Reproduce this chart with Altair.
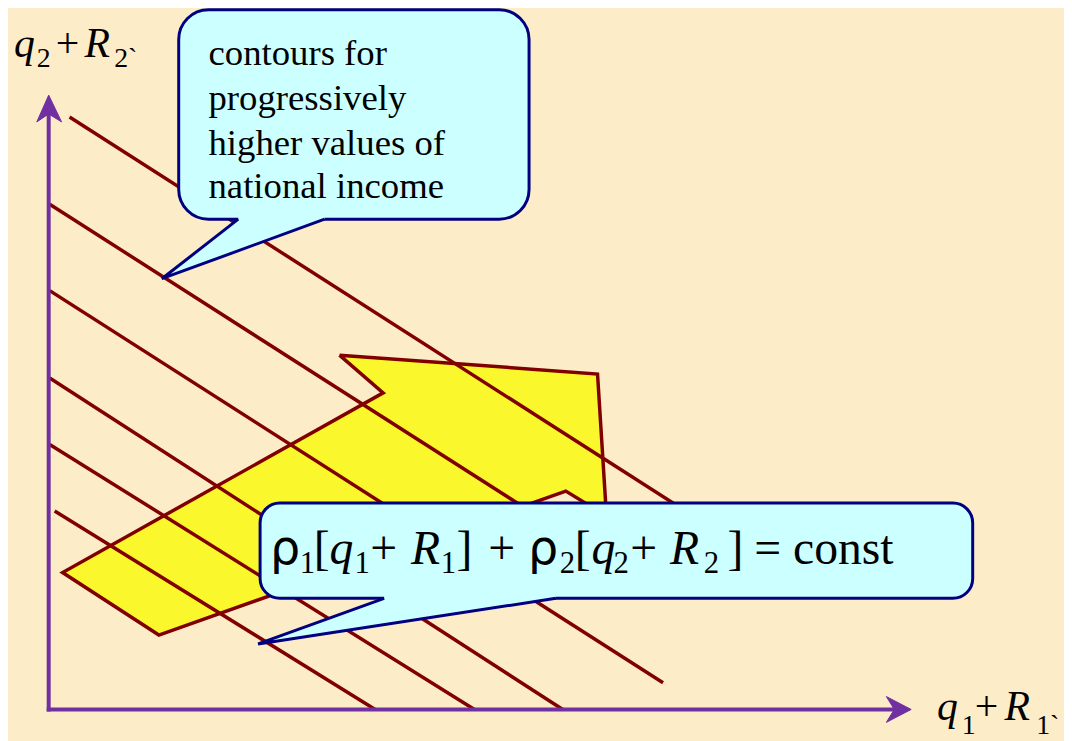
import altair as alt
import pandas as pd

# ---------------- data (reference pixel space) ----------------
# contour lines (iso-income lines): start / end points
line_x1 = [70, 50, 50, 50, 50, 55]
line_y1 = [115, 203, 290, 378, 445, 512]
line_x2 = [700, 640, 668, 567, 478, 378]
line_y2 = [518, 580, 685, 712, 712, 712]

# feasible set polygon
poly_x = [342, 602, 611, 570, 160, 63, 386, 342]
poly_y = [355, 374, 517, 492, 637, 574, 393, 355]

# axes
axis_x1 = [49, 47]
axis_y1 = [714, 712]
axis_x2 = [49, 903]
axis_y2 = [110, 712]
arrow_up_x = [49, 37, 49, 62, 49]
arrow_up_y = [93, 120, 112, 120, 93]
arrow_rt_x = [918, 893, 901, 893, 918]
arrow_rt_y = [712, 699, 712, 725, 712]

# callouts
box_x1 = [180, 262]
box_x2 = [533, 980]
box_y1 = [7, 504]
box_y2 = [218, 600]
tail1_x = [240, 163, 327]
tail1_y = [218, 278, 218]
tail2_x = [387, 260, 560]
tail2_y = [600, 646, 600]

# texts
note_lines = ["contours for", "progressively", "higher values of", "national income"]
note_y = [63, 108, 153, 197]

eq_text = ["ρ", "1", "[", "q", "1", "+", "R", "1", "]", "+", "ρ", "2", "[", "q", "2", "+", "R", "2", "]", "=", "const"]
eq_x = [272, 302, 316, 332, 357, 373, 414, 444, 460, 492, 532, 564, 579, 596, 618, 635, 675, 709, 733, 760, 799]
eq_kind = ["g", "s", "m", "i", "s", "m", "i", "s", "m", "m", "g", "s", "m", "i", "s", "m", "i", "s", "m", "m", "m"]

lab_text = ["q", "2", "+", "R", "2`", "q", "1", "+", "R", "1`"]
lab_x = [14, 37, 56, 85, 115, 944, 969, 982, 1012, 1044]
lab_y = [55, 65, 55, 55, 65, 723, 737, 723, 723, 737]
lab_kind = ["i", "s", "m", "i", "s", "i", "s", "m", "i", "s"]

# ---------------- styles ----------------
BG = "#FDECC8"
RED = "#800000"
PURPLE = "#7030A0"
NAVY = "#000080"
CYAN = "#CCFFFF"
YELLOW = "#FAF72C"
SERIF = "Liberation Serif"

xs = alt.Scale(domain=[8, 1072], nice=False, zero=False)
ys = alt.Scale(domain=[8, 741], nice=False, zero=False, reverse=True)


def X(f):
    return alt.X(f, type="quantitative", scale=xs, axis=None)


def Y(f):
    return alt.Y(f, type="quantitative", scale=ys, axis=None)


def poly_df(px, py):
    return pd.DataFrame({"x": px, "y": py, "i": list(range(len(px)))})


lines_df = pd.DataFrame({"x": line_x1, "y": line_y1, "x2": line_x2, "y2": line_y2})
axes_df = pd.DataFrame({"x": axis_x1, "y": axis_y1, "x2": axis_x2, "y2": axis_y2})
box_df = pd.DataFrame({"x": box_x1, "x2": box_x2, "y": box_y1, "y2": box_y2})

polygon = alt.Chart(poly_df(poly_x, poly_y)).mark_line(
    fill=YELLOW, stroke=RED, strokeWidth=3.5, strokeJoin="miter"
).encode(x=X("x"), y=Y("y"), order="i:Q")

contours = alt.Chart(lines_df).mark_rule(color=RED, strokeWidth=3.5).encode(
    x=X("x"), y=Y("y"), x2="x2:Q", y2="y2:Q"
)

axes = alt.Chart(axes_df).mark_rule(color=PURPLE, strokeWidth=4).encode(
    x=X("x"), y=Y("y"), x2="x2:Q", y2="y2:Q"
)
arrow_up = alt.Chart(poly_df(arrow_up_x, arrow_up_y)).mark_line(
    fill=PURPLE, stroke=PURPLE, strokeWidth=1
).encode(x=X("x"), y=Y("y"), order="i:Q")
arrow_rt = alt.Chart(poly_df(arrow_rt_x, arrow_rt_y)).mark_line(
    fill=PURPLE, stroke=PURPLE, strokeWidth=1
).encode(x=X("x"), y=Y("y"), order="i:Q")

layers = [polygon, contours, axes, arrow_up, arrow_rt]

for k in range(2):
    box = alt.Chart(box_df.iloc[[k]]).mark_rect(
        cornerRadius=30 if k == 0 else 20, fill=CYAN, stroke=NAVY, strokeWidth=3
    ).encode(x=X("x"), x2="x2:Q", y=Y("y"), y2="y2:Q")
    tx = tail1_x if k == 0 else tail2_x
    ty = tail1_y if k == 0 else tail2_y
    fx = [tx[0], tx[0], tx[1], tx[2], tx[2], tx[0]]
    fy = [ty[0] - 5, ty[0], ty[1], ty[2], ty[2] - 5, ty[0] - 5]
    tail_fill = alt.Chart(poly_df(fx, fy)).mark_line(
        fill=CYAN, strokeOpacity=0
    ).encode(x=X("x"), y=Y("y"), order="i:Q")
    tail_edge = alt.Chart(poly_df(tx, ty)).mark_line(
        stroke=NAVY, strokeWidth=3, strokeJoin="miter"
    ).encode(x=X("x"), y=Y("y"), order="i:Q")
    layers += [box, tail_fill, tail_edge]

note_df = pd.DataFrame({"t": note_lines, "x": [210] * 4, "y": note_y})
layers.append(
    alt.Chart(note_df).mark_text(
        align="left", baseline="alphabetic", font=SERIF, fontSize=37, color="black"
    ).encode(x=X("x"), y=Y("y"), text="t:N")
)

eq_df = pd.DataFrame({"t": eq_text, "x": eq_x, "k": eq_kind})
eq_df["y"] = [575 if k == "s" else 565 for k in eq_kind]
lab_df = pd.DataFrame({"t": lab_text, "x": lab_x, "y": lab_y, "k": lab_kind})

for df, main, sub in [(eq_df, 48, 31), (lab_df, 42, 28)]:
    for kind in ["m", "i", "s", "g"]:
        part = df[df["k"] == kind]
        if len(part) == 0:
            continue
        opts = dict(align="left", baseline="alphabetic", color="black",
                    font=SERIF, fontSize=main, fontStyle="normal")
        if kind == "i":
            opts["fontStyle"] = "italic"
        elif kind == "s":
            opts["fontSize"] = sub
        elif kind == "g":
            opts["font"] = "DejaVu Sans"
            opts["fontSize"] = main
        layers.append(
            alt.Chart(part).mark_text(**opts).encode(x=X("x"), y=Y("y"), text="t:N")
        )

chart = alt.layer(*layers).properties(
    width=1064, height=733, background=BG, padding=0,
    autosize=alt.AutoSizeParams(type="none")
).configure_view(strokeWidth=0)

chart.save("out.html", embed_options={"renderer": "svg", "actions": False})
